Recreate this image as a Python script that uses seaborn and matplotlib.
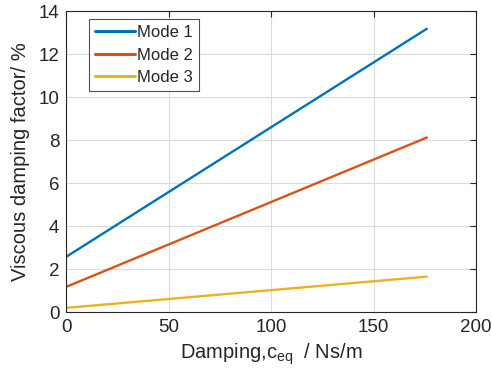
import matplotlib
matplotlib.use("Agg")
import matplotlib.pyplot as plt
import seaborn as sns
import pandas as pd

damping = [0, 176]
mode1 = [2.58, 13.18]
mode2 = [1.18, 8.12]
mode3 = [0.2, 1.65]
labels = ["Mode 1", "Mode 2", "Mode 3"]
colors = ["#0072BD", "#D95319", "#EDB120"]

rows = []
for lab, vals in zip(labels, [mode1, mode2, mode3]):
    for x, y in zip(damping, vals):
        rows.append({"x": x, "y": y, "mode": lab})
df = pd.DataFrame(rows)

sns.set_style("white")
plt.rcParams["font.family"] = ["Liberation Sans", "DejaVu Sans"]

fig = plt.figure(figsize=(4.92, 3.83), dpi=100)
ax = fig.add_axes([0.135, 0.185, 0.8325, 0.786])
sns.lineplot(data=df, x="x", y="y", hue="mode", palette=colors, linewidth=1.7, ax=ax)

ax.set_xlim(0, 200)
ax.set_ylim(0, 14)
ax.set_xticks([0, 50, 100, 150, 200])
ax.set_yticks([0, 2, 4, 6, 8, 10, 12, 14])
ax.grid(True, color="#dcdcdc", linewidth=0.8)
ax.set_axisbelow(True)
for s in ax.spines.values():
    s.set_visible(True)
    s.set_color("#262626")
    s.set_linewidth(0.8)
ax.tick_params(direction="in", top=True, right=True, length=4, width=0.8,
               labelsize=13.5, colors="#262626", pad=5)
ax.set_xlabel("Damping,c$_{\\mathregular{eq}}$  / Ns/m", fontsize=14.5, color="#262626", labelpad=4)
ax.set_ylabel("Viscous damping factor/ %", fontsize=14.5, color="#262626", labelpad=6)

leg = ax.legend(loc="upper left", bbox_to_anchor=(0.055, 0.973), fontsize=12,
                frameon=True, fancybox=False, edgecolor="#262626",
                handlelength=2.4, handletextpad=0.15, borderpad=0.35,
                labelspacing=0.45, borderaxespad=0)
leg.get_frame().set_linewidth(0.8)
for line in leg.get_lines():
    line.set_linewidth(2.2)

fig.savefig("out.png", dpi=100)
